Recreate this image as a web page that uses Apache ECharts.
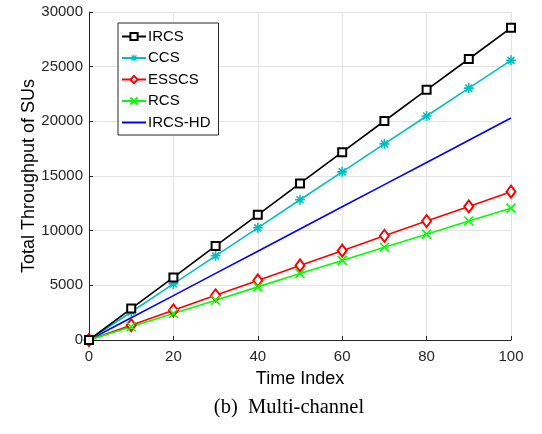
<!DOCTYPE html>
<html>
<head>
<meta charset="utf-8">
<script src="https://cdn.jsdelivr.net/npm/echarts@6/dist/echarts.min.js"></script>
<style>
  html, body { margin: 0; padding: 0; background: #fff; }
  #chart { width: 542px; height: 434px; }
</style>
</head>
<body>
<div id="chart"></div>
<script>
// time index (x)
let timeIndex = [0, 10, 20, 30, 40, 50, 60, 70, 80, 90, 100];
// series values
let ircs   = [0, 2870, 5720, 8600, 11450, 14320, 17180, 20030, 22880, 25700, 28550];
let ccs    = [0, 2560, 5130, 7700, 10260, 12830, 15380, 17940, 20490, 23040, 25580];
let esscs  = [0, 1360, 2720, 4090, 5450, 6820, 8170, 9530, 10880, 12220, 13570];
let rcs    = [0, 1210, 2420, 3640, 4860, 6080, 7280, 8480, 9680, 10880, 12060];
let ircsHd = [0, 2030, 4060, 6090, 8120, 10150, 12180, 14210, 16240, 18270, 20300];

// asterisk marker as filled bars (so it also draws in the legend)
let asterisk = 'path://M0 4.2H10V5.8H0Z M4.2 0H5.8V10H4.2Z ' +
    'M2.07 0.93L9.07 7.93L7.93 9.07L0.93 2.07Z M7.93 0.93L9.07 2.07L2.07 9.07L0.93 7.93Z';
let cross = 'path://M0 0L10 10M10 0L0 10';

function pairs(arr) {
    return arr.map((v, i) => [timeIndex[i], v]);
}

let myChart = echarts.init(document.getElementById('chart'), null, { renderer: 'canvas' });

let font = 'Liberation Sans, Arial, sans-serif';

let option = {
    animation: false,
    backgroundColor: '#fff',
    grid: { left: 89, right: 31, top: 12, bottom: 94 },
    legend: {
        orient: 'vertical',
        left: 118,
        top: 23,
        padding: [6, 8, 5, 3],
        itemGap: 6.5,
        itemWidth: 24,
        itemHeight: 9,
        backgroundColor: '#fff',
        borderColor: '#262626',
        borderWidth: 1,
        textStyle: { fontFamily: font, fontSize: 15, color: '#000', lineHeight: 14, padding: [0, 0, 0, -3] },
        data: ['IRCS', 'CCS', 'ESSCS', 'RCS', { name: 'IRCS-HD', itemStyle: { opacity: 0 } }]
    },
    xAxis: {
        type: 'value',
        min: 0, max: 100, interval: 20,
        name: 'Time Index',
        nameLocation: 'middle',
        nameGap: 30,
        nameTextStyle: { fontFamily: font, fontSize: 18, color: '#000' },
        axisLine: { lineStyle: { color: '#262626', width: 1 } },
        axisTick: { inside: true, length: 4, lineStyle: { color: '#262626' } },
        axisLabel: { fontFamily: font, fontSize: 15, color: '#262626', margin: 9 },
        splitLine: { show: true, lineStyle: { color: '#e3e3e3', width: 1 } }
    },
    yAxis: {
        type: 'value',
        min: 0, max: 30000, interval: 5000,
        name: 'Total Throughput of SUs',
        nameLocation: 'middle',
        nameGap: 51,
        nameMoveOverlap: false,
        nameTextStyle: { fontFamily: font, fontSize: 18, color: '#000' },
        axisLine: { show: true, lineStyle: { color: '#262626', width: 1 } },
        axisTick: { show: true, inside: true, length: 4, lineStyle: { color: '#262626' } },
        axisLabel: { fontFamily: font, fontSize: 15, color: '#262626', margin: 6, formatter: v => String(v) },
        splitLine: { show: true, lineStyle: { color: '#e3e3e3', width: 1 } }
    },
    series: [
        {
            name: 'IRCS', type: 'line', data: pairs(ircs),
            symbol: 'emptyRect', symbolSize: 8,
            lineStyle: { color: '#000', width: 1.6 },
            itemStyle: { color: '#000', borderColor: '#000', borderWidth: 1.6 },
            z: 5
        },
        {
            name: 'CCS', type: 'line', data: pairs(ccs),
            symbol: asterisk, symbolSize: 10,
            lineStyle: { color: '#00bfbf', width: 1.6 },
            itemStyle: { color: '#00bfbf' },
            z: 4
        },
        {
            name: 'ESSCS', type: 'line', data: pairs(esscs),
            symbol: 'emptyDiamond', symbolSize: [9, 12],
            lineStyle: { color: '#ff0000', width: 1.6 },
            itemStyle: { color: '#ff0000', borderColor: '#ff0000', borderWidth: 1.6 },
            z: 3
        },
        {
            name: 'RCS', type: 'line', data: pairs(rcs),
            symbol: cross, symbolSize: 9,
            lineStyle: { color: '#00ff00', width: 1.6 },
            itemStyle: { color: '#00ff00', borderColor: '#00ff00', borderWidth: 1.6 },
            z: 3
        },
        {
            name: 'IRCS-HD', type: 'line', data: pairs(ircsHd),
            symbol: 'circle', showSymbol: false,
            lineStyle: { color: '#0000ff', width: 1.6 },
            itemStyle: { color: '#0000ff' },
            z: 2
        }
    ],
    graphic: [
        {
            type: 'text',
            x: 289,
            y: 397,
            style: {
                text: '(b)  Multi-channel',
                font: '20.5px "Liberation Serif", "Times New Roman", serif',
                fill: '#000',
                align: 'center'
            }
        }
    ]
};

myChart.setOption(option);
</script>
</body>
</html>
